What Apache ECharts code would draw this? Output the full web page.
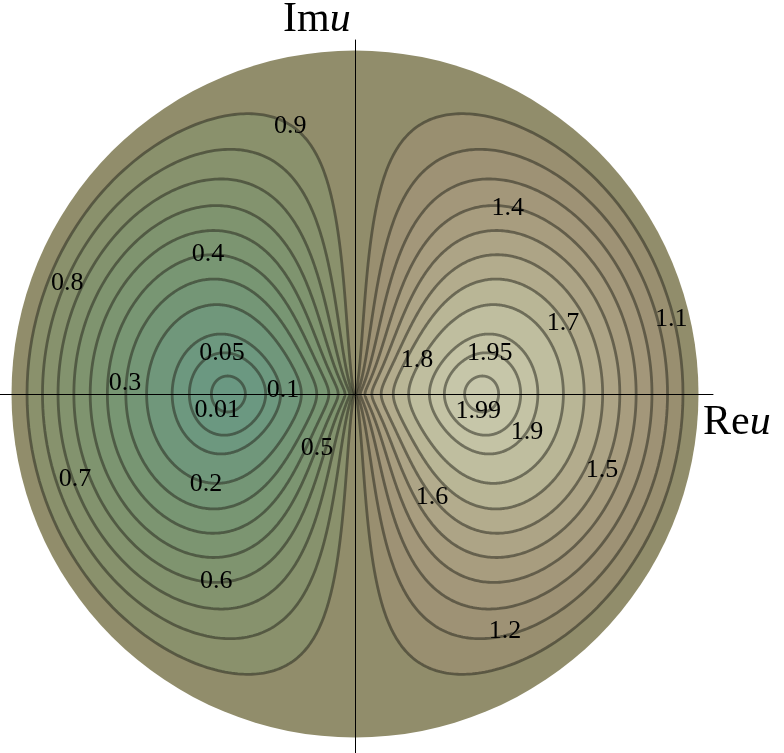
<!DOCTYPE html>
<html>
<head>
<meta charset="utf-8">
<script src="https://cdn.jsdelivr.net/npm/echarts@6/dist/echarts.min.js"></script>
<style>
  html, body { margin: 0; padding: 0; background: #ffffff; }
  #chart { width: 784px; height: 753px; }
</style>
</head>
<body>
<div id="chart"></div>
<script>
// ---- data ----
// contour levels drawn in the plot
const levels = [0.01, 0.05, 0.1, 0.2, 0.3, 0.4, 0.5, 0.6, 0.7, 0.8, 0.9,
                1.1, 1.2, 1.3, 1.4, 1.5, 1.6, 1.7, 1.8, 1.9, 1.95, 1.99];
// radius (|u|) of the minimum (value 0) / maximum (value 2)
const extremumRadius = 0.368;
// contour labels: level, radius |u| and polar angle (degrees) where the label sits
const labelLevels = [0.9, 0.8, 0.7, 0.6, 0.5, 0.4, 0.3, 0.2, 0.1, 0.05, 0.01,
                     1.1, 1.2, 1.4, 1.5, 1.6, 1.7, 1.8, 1.9, 1.95, 1.99];
const labelRadii  = [0.803, 0.898, 0.852, 0.678, 0.192, 0.591, 0.670, 0.507, 0.210, 0.405, 0.404,
                     0.946, 0.817, 0.701, 0.752, 0.374, 0.640, 0.206, 0.513, 0.410, 0.362];
const labelAngles = [103.6, 158.9, 196.9, 233.4, 234.9, 136.4, 177.3, 211.1, 176.8, 162.9, 186.6,
                     13.35, 302.3, 50.6, 342.9, 306.8, 18.85, 28.7, 347.5, 16.9, 352.1];

// ---- model of the plotted function: f = 1 + cos(arg u) * sin(pi * s(|u|)) ----
const pDrop = 0.16, pScale = 0.12;
const p1 = Math.log(0.5) / Math.log(extremumRadius) + pDrop * Math.exp(-extremumRadius / pScale);
function sOf(r) {
  if (r <= 0) return 0;
  const p = p1 - pDrop * Math.exp(-r / pScale);
  return Math.exp(p * Math.log(r));
}
function prof(r) { return Math.sin(Math.PI * sOf(r)); }
function sInv(target) {
  let lo = 0, hi = 1;
  for (let k = 0; k < 80; k++) {
    const mid = (lo + hi) / 2;
    if (sOf(mid) < target) lo = mid; else hi = mid;
  }
  return (lo + hi) / 2;
}
function contourRange(c) {
  const hv = Math.abs(c - 1);
  const a1 = Math.asin(Math.min(1, hv)) / Math.PI;
  return [sInv(a1), sInv(1 - a1)];
}
function pointOn(c, r, half) {
  const hv = Math.abs(c - 1);
  const sgn = c < 1 ? -1 : 1;
  let v = hv / Math.max(prof(r), 1e-12);
  v = Math.min(1, v);
  const ct = sgn * v, st = Math.sqrt(Math.max(0, 1 - v * v));
  return [r * ct, half * r * st];
}
function contourPath(c) {
  const [rIn, rOut] = contourRange(c);
  const N = 300;
  const upper = [];
  for (let i = 0; i <= N; i++) {
    const t = i / N;
    const r = rIn + (rOut - rIn) * (1 - Math.cos(Math.PI * t)) / 2;
    upper.push(pointOn(c, r, 1));
  }
  const lower = [];
  for (let i = N - 1; i >= 1; i--) {
    lower.push([upper[i][0], -upper[i][1]]);
  }
  return upper.concat(lower);
}
const paths = levels.map(contourPath);

// ---- colours ----
const colorStops = [
  [0.0, [106, 152, 130]],
  [0.3, [118, 150, 116]],
  [0.6, [129, 148, 110]],
  [0.9, [140, 144, 107]],
  [1.0, [145, 141, 107]],
  [1.2, [155, 143, 114]],
  [1.4, [165, 153, 124]],
  [1.6, [176, 168, 137]],
  [1.8, [188, 186, 154]],
  [2.0, [200, 200, 172]]
];
function colorAt(f) {
  for (let i = 1; i < colorStops.length; i++) {
    if (f <= colorStops[i][0]) {
      const [f0, c0] = colorStops[i - 1], [f1, c1] = colorStops[i];
      const t = (f - f0) / (f1 - f0);
      const c = c0.map((v, k) => Math.round(v + (c1[k] - v) * t));
      return 'rgb(' + c.join(',') + ')';
    }
  }
  return 'rgb(' + colorStops[colorStops.length - 1][1].join(',') + ')';
}
function bandColor(i) {
  const c = levels[i];
  if (c < 1) {
    const prev = i > 0 ? levels[i - 1] : 0;
    return colorAt((prev + c) / 2);
  }
  const next = i < levels.length - 1 ? levels[i + 1] : 2;
  return colorAt((next + c) / 2);
}

// fill order: outer loops first
const leftIdx = levels.map((c, i) => i).filter(i => levels[i] < 1).reverse();
const rightIdx = levels.map((c, i) => i).filter(i => levels[i] > 1);
const fillOrder = leftIdx.concat(rightIdx);

const lineColor = 'rgba(38,38,28,0.52)';
const serif = '"Liberation Serif", "Times New Roman", serif';

const chart = echarts.init(document.getElementById('chart'), null, { renderer: 'canvas' });
const S = 343.5;
chart.setOption({
  animation: false,
  backgroundColor: '#ffffff',
  grid: { left: 0, top: 40, width: 713, height: 713, containLabel: false },
  xAxis: {
    type: 'value', min: -355 / S, max: 358 / S, z: 10,
    axisLine: { show: true, onZero: true, lineStyle: { color: '#000', width: 1 } },
    axisTick: { show: false }, axisLabel: { show: false }, splitLine: { show: false }
  },
  yAxis: {
    type: 'value', min: -359 / S, max: 354 / S, z: 10,
    axisLine: { show: true, onZero: true, lineStyle: { color: '#000', width: 1 } },
    axisTick: { show: false }, axisLabel: { show: false }, splitLine: { show: false }
  },
  graphic: [
    { type: 'text', x: 283, y: 20, z: 100,
      style: { text: 'Im{i|u}', font: '42px ' + serif, fill: '#000', verticalAlign: 'middle', align: 'left',
               rich: { i: { fontStyle: 'italic', fontSize: 42, fontFamily: serif } } } },
    { type: 'text', x: 703, y: 423, z: 100,
      style: { text: 'Re{i|u}', font: '42px ' + serif, fill: '#000', verticalAlign: 'middle', align: 'left',
               rich: { i: { fontStyle: 'italic', fontSize: 42, fontFamily: serif } } } }
  ],
  series: [
    { // disk
      type: 'custom', z: 1, silent: true,
      data: [[0, 0]],
      renderItem: function (params, api) {
        const c = api.coord([0, 0]);
        const e = api.coord([1, 0]);
        return { type: 'circle', shape: { cx: c[0], cy: c[1], r: e[0] - c[0] },
                 style: { fill: colorAt(1.0) } };
      }
    },
    { // filled bands
      type: 'custom', z: 2, silent: true,
      data: fillOrder.map(i => [0, 0, i]),
      renderItem: function (params, api) {
        const idx = fillOrder[params.dataIndex];
        const pts = paths[idx].map(p => api.coord(p));
        return { type: 'polygon', shape: { points: pts }, style: { fill: bandColor(idx) } };
      }
    },
    { // contour lines
      type: 'custom', z: 3, silent: true,
      data: levels.map((c, i) => [0, 0, i]),
      renderItem: function (params, api) {
        const pts = paths[params.dataIndex].map(p => api.coord(p));
        return { type: 'polygon', shape: { points: pts },
                 style: { fill: 'none', stroke: lineColor, lineWidth: 2.8 } };
      }
    },
    { // contour labels
      type: 'custom', z: 4, silent: true,
      data: labelLevels.map((c, i) => [0, 0, i]),
      renderItem: function (params, api) {
        const i = params.dataIndex;
        const a = labelAngles[i] * Math.PI / 180;
        const r = labelRadii[i];
        const p = api.coord([r * Math.cos(a), r * Math.sin(a)]);
        return { type: 'text', x: p[0], y: p[1],
                 style: { text: String(labelLevels[i]), font: '26px ' + serif, fill: '#000',
                          align: 'center', verticalAlign: 'middle' } };
      }
    }
  ]
});
</script>
</body>
</html>
